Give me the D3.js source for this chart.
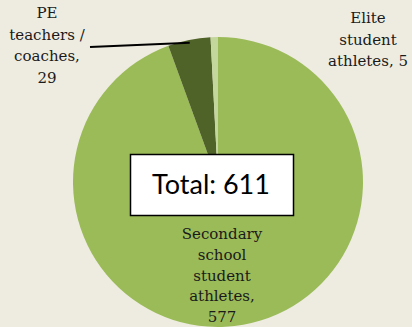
<!DOCTYPE html>
<html>
<head>
<meta charset="utf-8">
<script src="https://cdn.jsdelivr.net/npm/d3@7"></script>
<style>
  body { margin: 0; background: #eeece1; }
  svg { display: block; }
  .lbl { font-family: "DejaVu Serif", serif; font-size: 15px; fill: #1a1a1a; }
</style>
</head>
<body>
<div class="chart"></div>
<script>
'use strict';

var categories = ['Secondary school student athletes', 'PE teachers / coaches', 'Elite student athletes'];
var counts = [577, 29, 5];
var colors = ['#9bbb59', '#4f6228', '#c3d69b'];
var totalLabel = 'Total: 611';

(function () {
    var width = 412;
    var height = 327;
    var cx = 218, cy = 182, radius = 145;

    var svg = d3.select('.chart')
        .append('svg')
        .attr('width', width)
        .attr('height', height);

    var dataset = categories.map(function (c, i) {
        return { name: c, votes: counts[i] };
    });

    var color = d3.scaleOrdinal()
        .domain(categories)
        .range(colors);

    var pie = d3.pie()
        .value(function (d) { return d.votes; })
        .sort(null);

    var arc = d3.arc()
        .innerRadius(0)
        .outerRadius(radius);

    var g = svg.append('g')
        .attr('transform', 'translate(' + cx + ',' + cy + ')');

    var slices = pie(dataset);

    g.selectAll('path')
        .data(slices)
        .enter()
        .append('path')
        .attr('d', arc)
        .attr('fill', function (d) { return color(d.data.name); });

    // leader line for the PE slice, ends just inside its outer edge
    var pe = slices[1];
    var edge = d3.arc().innerRadius(radius - 3).outerRadius(radius - 3).centroid(pe);
    g.append('line')
        .attr('x1', 90 - cx).attr('y1', 47 - cy)
        .attr('x2', edge[0]).attr('y2', edge[1])
        .attr('stroke', '#000')
        .attr('stroke-width', 2);

    function multiLabel(lines, x, y0, step) {
        var t = svg.append('text')
            .attr('class', 'lbl')
            .attr('text-anchor', 'middle');
        lines.forEach(function (s, i) {
            t.append('tspan')
                .attr('x', x)
                .attr('y', y0 + i * step)
                .text(s);
        });
    }

    multiLabel(['PE', 'teachers /', 'coaches,', counts[1]], 47, 18, 21.5);
    multiLabel(['Elite', 'student', 'athletes, ' + counts[2]], 368, 23, 21.5);
    multiLabel(['Secondary', 'school', 'student', 'athletes,', counts[0]], 222, 239, 20.8);

    // total box
    svg.append('rect')
        .attr('x', 130.5).attr('y', 154.5)
        .attr('width', 163).attr('height', 61)
        .attr('fill', '#fff')
        .attr('stroke', '#000')
        .attr('stroke-width', 1.5);

    svg.append('text')
        .attr('x', 211).attr('y', 194)
        .attr('text-anchor', 'middle')
        .style('font-family', 'Lato, "DejaVu Sans", sans-serif')
        .style('font-size', '27px')
        .style('fill', '#000')
        .text(totalLabel);
})();
</script>
</body>
</html>
